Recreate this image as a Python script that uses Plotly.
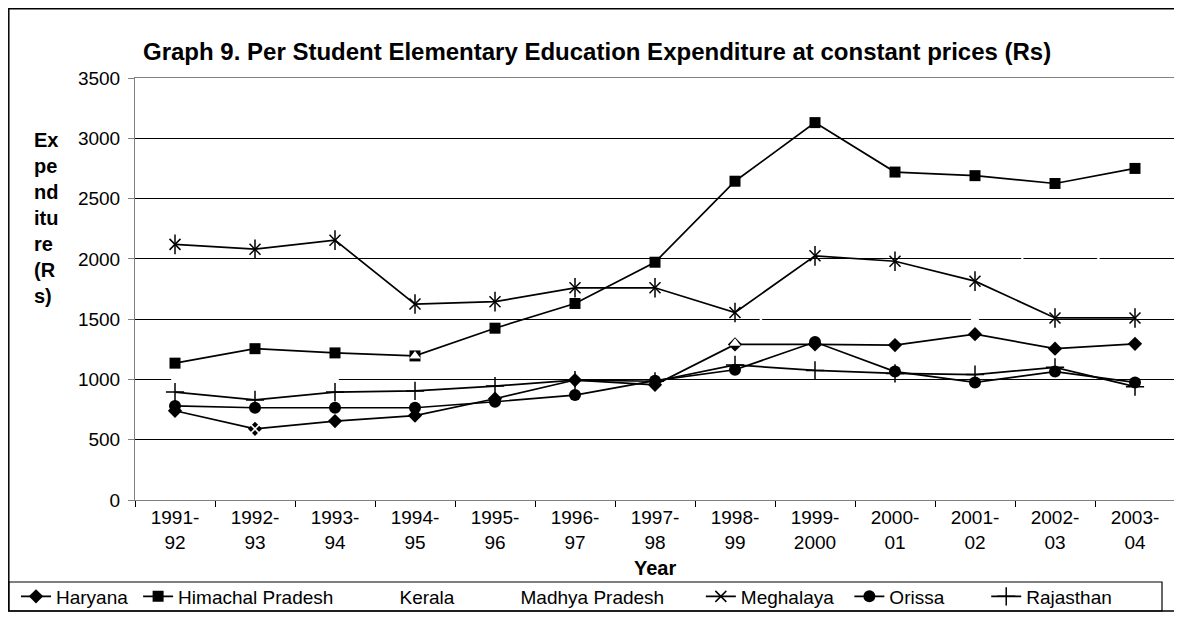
import plotly.graph_objects as go

years = ["1991-<br>92", "1992-<br>93", "1993-<br>94", "1994-<br>95", "1995-<br>96", "1996-<br>97",
         "1997-<br>98", "1998-<br>99", "1999-<br>2000", "2000-<br>01", "2001-<br>02", "2002-<br>03", "2003-<br>04"]

haryana = [740, 590, 655, 700, 840, 995, 955, 1290, 1290, 1285, 1375, 1255, 1295]
himachal = [1135, 1255, 1220, 1195, 1425, 1630, 1972, 2644, 3130, 2720, 2690, 2625, 2750]
kerala = [1000, 1000, 1000, 1195, 1400, 1350, 1250, 1300, 1910, 1700, 1500, 2350, 1710]
madhya = [735, 590, 655, 700, 835, 990, 955, 1290, 1290, 1280, 1370, 1250, 1290]
meghalaya = [2120, 2080, 2155, 1625, 1645, 1760, 1760, 1555, 2025, 1980, 1815, 1510, 1510]
orissa = [780, 765, 765, 765, 815, 870, 990, 1080, 1310, 1065, 975, 1065, 975]
rajasthan = [895, 830, 895, 905, 945, 995, 985, 1120, 1075, 1050, 1040, 1100, 940]

# points where the white markers show on top of the black ones
kerala_on_top = [3, 7]
madhya_on_top = [1]

FONT = "Liberation Sans, Arial, sans-serif"
NB = "\u00a0"

# positions below are in reference pixels; the page body adds an 8px offset
# plot area: x 135..1175, y 78..500
def px(x):
    return (x - 135) / 1040

def py(y):
    return (500 - y) / 422

blk = "black"
series = [
    ("Haryana", haryana, blk, dict(symbol="diamond", size=11, color=blk), 1, 1),
    ("Himachal Pradesh", himachal, blk, dict(symbol="square", size=11, color=blk), 2, 4),
    ("Kerala", kerala, "white", dict(symbol="triangle-up", size=10, color="white"), 3, 4),
    ("Madhya Pradesh", madhya, "white", dict(symbol="x-thin-open", size=9, color="white"), 4, 6),
    ("Meghalaya", meghalaya, blk, dict(symbol="x-thin-open", size=11, color=blk, line=dict(width=1.5, color=blk)), 5, 2),
    ("Orissa", orissa, blk, dict(symbol="circle", size=12, color=blk), 6, 7),
    ("Rajasthan", rajasthan, blk, dict(symbol="cross-thin-open", size=13, color=blk, line=dict(width=1.5, color=blk)), 7, 0),
]

fig = go.Figure()
# white series first so they only hide the gridlines
for i in [2, 3, 0, 1, 4, 5, 6]:
    name, vals, col, mk, rank, pad = series[i]
    fig.add_trace(go.Scatter(x=years, y=vals, name=name + NB * pad, mode="lines+markers",
                             line=dict(color=col, width=1.7), marker=mk, legendrank=rank,
                             legendgroup=name))
    if name == "Meghalaya":
        # vertical stroke of the star marker
        fig.add_trace(go.Scatter(x=years, y=vals, mode="markers", showlegend=False, legendgroup=name,
                                 marker=dict(symbol="line-ns-open", size=14, color=blk,
                                             line=dict(width=1.5, color=blk))))

fig.add_trace(go.Scatter(x=years, y=[v if k in kerala_on_top else None for k, v in enumerate(kerala)],
                         mode="markers", showlegend=False, hoverinfo="skip",
                         marker=dict(symbol="triangle-up", size=10, color="white")))
fig.add_trace(go.Scatter(x=years, y=[v if k in madhya_on_top else None for k, v in enumerate(madhya)],
                         mode="markers", showlegend=False, hoverinfo="skip",
                         marker=dict(symbol="x-thin-open", size=8, color="white", line=dict(width=1.5, color="white"))))

# chart frame and legend box
fig.add_shape(type="rect", xref="paper", yref="paper", x0=px(8.8), x1=px(1180), y0=py(611), y1=py(8.8),
              line=dict(color=blk, width=1.5))
fig.add_shape(type="rect", xref="paper", yref="paper", x0=px(8.8), x1=px(1162), y0=py(611), y1=py(582),
              line=dict(color=blk, width=1.2))

fig.add_annotation(text="Graph 9. Per Student Elementary Education Expenditure at constant prices (Rs)",
                   xref="paper", yref="paper", x=px(597), y=py(51), xanchor="center", yanchor="middle",
                   showarrow=False, font=dict(family=FONT, size=24, color=blk, weight="bold"))
fig.add_annotation(text="Ex<br>pe<br>nd<br>itu<br>re<br>(R<br>s)", xref="paper", yref="paper",
                   x=px(32), y=py(218), xanchor="left", yanchor="middle", align="left", showarrow=False,
                   font=dict(family=FONT, size=20, color=blk, weight="bold"))
fig.add_annotation(text="Year", xref="paper", yref="paper", x=0.5, y=py(568), xanchor="center",
                   yanchor="middle", showarrow=False,
                   font=dict(family=FONT, size=20, color=blk, weight="bold"))

fig.update_layout(
    width=1174, height=629,
    margin=dict(l=127, r=7, t=70, b=137),
    paper_bgcolor="white", plot_bgcolor="white",
    font=dict(family=FONT, size=19, color=blk),
    showlegend=True,
    legend=dict(orientation="h", x=px(16), y=py(596.5), xanchor="left", yanchor="middle",
                bgcolor="rgba(0,0,0,0)", borderwidth=0, font=dict(size=19), itemwidth=30,
                tracegroupgap=0),
    xaxis=dict(type="category", range=[-0.5, 12.5], tickson="boundaries", ticks="outside", ticklen=6,
               tickcolor=blk, showline=True, linecolor="gray", mirror=True, showgrid=False,
               tickfont=dict(size=19)),
    yaxis=dict(range=[0, 3500], dtick=500, ticks="outside", ticklen=6, tickcolor="gray",
               showline=True, linecolor="gray", mirror=True, showgrid=True, gridcolor=blk,
               gridwidth=1, zeroline=False, tickfont=dict(size=19), ticklabelstandoff=4),
)

fig.write_html("out.html")
